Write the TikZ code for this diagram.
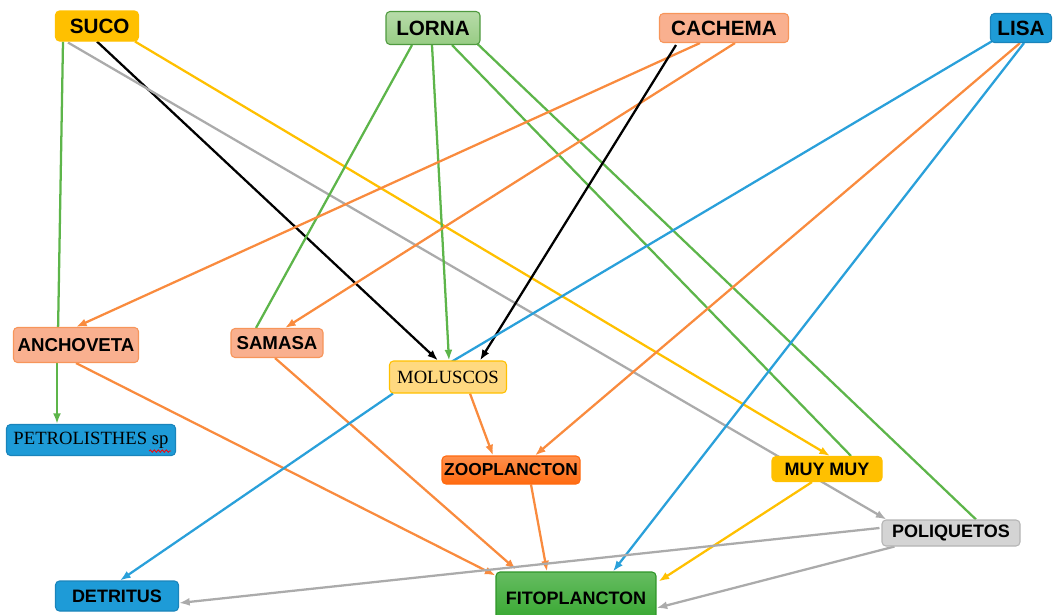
\documentclass[tikz,border=0pt]{standalone}
\usepackage{fontspec}
\setmainfont{Liberation Sans}
\newfontfamily\timesfont{Liberation Serif}
\usetikzlibrary{calc,arrows.meta,backgrounds,decorations.pathmorphing}
\definecolor{lgreen}{HTML}{5DB54A}
\definecolor{lorange}{HTML}{F98B3E}
\definecolor{lyellow}{HTML}{FFC000}
\definecolor{lgray}{HTML}{ABABAB}
\definecolor{lblue}{HTML}{2AA0DA}
\definecolor{salmon}{HTML}{F9B08F}
\definecolor{salmonline}{HTML}{F7955A}
\definecolor{lorna}{HTML}{98CC84}
\definecolor{fito}{HTML}{33A62D}
\definecolor{zoo}{HTML}{FF6A10}
\definecolor{fishblue}{HTML}{1E9BD7}
\definecolor{fishblueline}{HTML}{1A84BB}
\definecolor{molfill}{HTML}{FFD980}
\definecolor{polifill}{HTML}{D4D4D4}
\definecolor{poliline}{HTML}{B5B5B5}
\newcommand{\lbl}[1]{\fontsize{#1}{#1}\selectfont\bfseries}
\newcommand{\rom}[1]{\fontsize{#1}{#1}\selectfont\timesfont}
\tikzset{
	box/.style={draw, rounded corners=3pt, line width=0.8pt, inner sep=0pt},
	link/.style={line width=1.7pt},
	arr/.style={link, -{Latex[length=8pt,width=6pt]}},
}

\begin{document}
\begin{tikzpicture}[x=0.75pt,y=-0.75pt]
	\path[use as bounding box, clip] (0,0) rectangle (1056,614);

	% top row
	\node[box, fill=lyellow, draw=lyellow, minimum width=62.25pt, minimum height=22.5pt, font=\lbl{15.5pt}] (suco) at (97,26) {\hspace{4pt}SUCO};
	\node[box, top color=lorna!70!white, bottom color=lorna, draw=lgreen!85!black, minimum width=70.5pt, minimum height=24.75pt, font=\lbl{15.5pt}] (lorna) at (433,28) {LORNA};
	\node[box, fill=salmon, draw=salmonline, minimum width=96.75pt, minimum height=21.75pt, font=\lbl{15.5pt}] (cachema) at (724,28) {CACHEMA};
	\node[box, fill=fishblue, draw=fishblueline, minimum width=45.75pt, minimum height=21.75pt, font=\lbl{15.5pt}] (lisa) at (1021,28) {LISA};

	% middle
	\node[box, fill=salmon, draw=salmonline, minimum width=93.75pt, minimum height=26.25pt, font=\lbl{14pt}] (anchov) at (76,345) {ANCHOVETA};
	\node[box, fill=salmon, draw=salmonline, minimum width=69pt, minimum height=21.75pt, font=\lbl{14pt}] (samasa) at (277,343) {SAMASA};
	\node[box, fill=molfill, draw=lyellow, minimum width=87.75pt, minimum height=24pt, font=\rom{14pt}] (molus) at (448,377) {MOLUSCOS};
	\node[box, fill=fishblue, draw=fishblueline, minimum width=126.75pt, minimum height=23.25pt, font=\rom{14pt}] (petro) at (91,440) {PETROLISTHES sp};
	\node[box, top color=zoo!75!white, bottom color=zoo, draw=zoo, minimum width=103.5pt, minimum height=21pt, font=\lbl{13pt}] (zoo) at (511,470) {ZOOPLANCTON};
	\node[box, fill=lyellow, draw=lyellow, minimum width=82.5pt, minimum height=18.75pt, font=\lbl{13.5pt}] (muy) at (827,469) {MUY MUY};
	\node[box, fill=polifill, draw=poliline, minimum width=103.5pt, minimum height=19.5pt, font=\lbl{13.5pt}] (poli) at (951,533) {POLIQUETOS};

	% bottom
	\node[box, fill=fishblue, draw=fishblueline, minimum width=92.25pt, minimum height=22.5pt, font=\lbl{13.5pt}] (detr) at (117,596) {DETRITUS};
	\node[box, top color=fito!75!white, bottom color=fito, draw=fito!90!black, minimum width=120pt, minimum height=39pt, font=\lbl{13.5pt}] (fito) at (576,598) {FITOPLANCTON};

	\draw[red, line width=0.6pt, decorate, decoration={snake, amplitude=0.9pt, segment length=3pt}]
		($(petro.south east)+(-27,-5)$) -- ($(petro.south east)+(-5,-5)$);

	\begin{pgfonlayer}{background}
	\draw[link, lgreen] ($(suco.south)+(-34,0)$) -- ($(anchov.north)+(-18,6)$);
	\draw[arr] (suco.south) -- ($(molus.north)+(-10,0)$);
	\draw[arr, lyellow] ($(suco.south east)+(-4,0)$) -- ($(muy.north)+(3,0)$);
	\draw[arr, lgray] ($(suco.south)+(-29,1)$) -- ($(poli.north west)+(5,0)$);

	\draw[link, lgreen] ($(lorna.south)+(-21,0)$) -- ($(samasa.north)+(-21,0)$);
	\draw[arr, lgreen] ($(lorna.south)+(-1,0)$) -- ($(molus.north)+(1,0)$);
	\draw[link, lgreen] ($(lorna.south)+(19,0)$) -- ($(muy.north)+(24,0)$);
	\draw[link, lgreen] ($(lorna.south east)+(-4,-2)$) -- ($(poli.north)+(25,0)$);

	\draw[arr, lorange] ($(cachema.south)+(-24,0)$) -- (anchov.north);
	\draw[arr, lorange] ($(cachema.south)+(11,0)$) -- ($(samasa.north)+(8,0)$);
	\draw[arr] ($(cachema.south)+(-48,2)$) -- ($(molus.north)+(32,0)$);

	\draw[link, lblue] ($(lisa.south west)+(4,-3)$) -- ($(molus.north)+(4,1)$);
	\draw[arr, lorange] ($(lisa.south)+(-1,0)$) -- ($(zoo.north)+(24,0)$);
	\draw[arr, lblue] ($(lisa.south)+(3,0)$) -- ($(fito.north)+(37,0)$);

	\draw[arr, lgreen] ($(anchov.south)+(-19,0)$) -- ($(petro.north)+(-34,0)$);
	\draw[arr, lorange] (anchov.south) -- ($(fito.north west)+(0,4)$);
	\draw[arr, lorange] ($(samasa.south)+(-2,0)$) -- ($(fito.north)+(-60,-2)$);
	\draw[arr, lorange] ($(molus.south)+(22,0)$) -- ($(zoo.north)+(-18,0)$);
	\draw[arr, lblue] ($(molus.south west)+(4,0)$) -- ($(detr.north)+(3,0)$);
	\draw[arr, lorange] ($(zoo.south)+(20,0)$) -- ($(fito.north)+(-29,0)$);
	\draw[arr, lyellow] ($(muy.south)+(-15,0)$) -- ($(fito.north east)+(2,10)$);
	\draw[arr, lgray] ($(poli.west)+(-2,-5)$) -- ($(detr.east)+(0,7)$);
	\draw[arr, lgray] ($(poli.south west)+(13,0)$) -- ($(fito.east)+(0,10)$);
	\end{pgfonlayer}
\end{tikzpicture}
\end{document}
